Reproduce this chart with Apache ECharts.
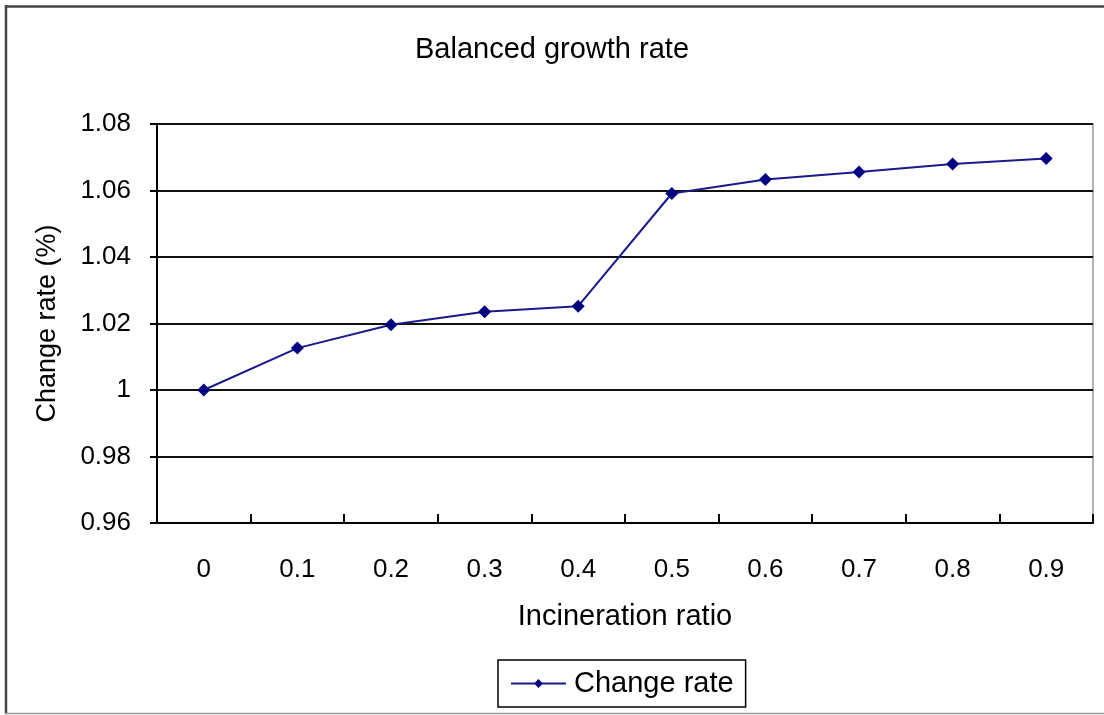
<!DOCTYPE html>
<html>
<head>
<meta charset="utf-8">
<script src="https://cdn.jsdelivr.net/npm/echarts@6/dist/echarts.min.js"></script>
<style>
  html, body { margin: 0; padding: 0; background: #fff; }
  #chart { width: 1104px; height: 715px; }
</style>
</head>
<body>
<div id="chart"></div>
<script>
// Incineration ratio categories
const ratios = ['0', '0.1', '0.2', '0.3', '0.4', '0.5', '0.6', '0.7', '0.8', '0.9'];
// Balanced growth change rate for each ratio
const changeRate = [1.000, 1.0126, 1.0196, 1.0235, 1.0252, 1.0591, 1.0633, 1.0656, 1.0680, 1.0696];
// Value axis range
const yMin = 0.96, yMax = 1.08, yStep = 0.02;

const FONT = '"Liberation Sans", Arial, sans-serif';
const chart = echarts.init(document.getElementById('chart'), null, { renderer: 'canvas' });

chart.setOption({
  backgroundColor: '#fff',
  animation: false,
  textStyle: { fontFamily: FONT, color: '#000' },
  title: {
    text: 'Balanced growth rate',
    left: 'center',
    top: 30,
    textStyle: { fontFamily: FONT, fontSize: 29, fontWeight: 'normal', color: '#000' }
  },
  // outer frame of the chart area (top, left dark; bottom light)
  graphic: [
    { type: 'line', shape: { x1: 5, y1: 6.5, x2: 1104, y2: 6.5 },
      style: { stroke: '#444', lineWidth: 2.5 }, silent: true },
    { type: 'line', shape: { x1: 6, y1: 5, x2: 6, y2: 714 },
      style: { stroke: '#444', lineWidth: 2.5 }, silent: true },
    { type: 'line', shape: { x1: 5, y1: 713.5, x2: 1104, y2: 713.5 },
      style: { stroke: '#999', lineWidth: 1.5 }, silent: true }
  ],
  legend: {
    data: ['Change rate'],
    left: 498,
    top: 660,
    padding: [9, 12, 9, 12],
    borderColor: '#000',
    borderWidth: 1.5,
    itemWidth: 55,
    itemHeight: 11,
    itemGap: 0,
    textStyle: { fontFamily: FONT, fontSize: 29, color: '#000', padding: [0, 0, 0, 3] }
  },
  grid: {
    left: 157,
    top: 124,
    right: 11,
    bottom: 192,
    show: true,
    borderColor: '#999',
    borderWidth: 1.5,
    containLabel: false
  },
  xAxis: {
    type: 'category',
    data: ratios,
    boundaryGap: true,
    name: 'Incineration ratio',
    nameLocation: 'middle',
    nameGap: 79,
    nameTextStyle: { fontFamily: FONT, fontSize: 29, color: '#000' },
    axisLine: { lineStyle: { color: '#000', width: 2 } },
    axisTick: { show: true, inside: true, length: 9, lineStyle: { color: '#000', width: 2 } },
    axisLabel: { margin: 34, fontFamily: FONT, fontSize: 26, color: '#000' },
    splitLine: { show: false }
  },
  yAxis: {
    type: 'value',
    min: yMin,
    max: yMax,
    interval: yStep,
    name: 'Change rate (%)',
    nameLocation: 'middle',
    nameGap: 96,
    nameTextStyle: { fontFamily: FONT, fontSize: 27, color: '#000' },
    axisLine: { show: true, lineStyle: { color: '#000', width: 2 } },
    axisTick: { show: true, inside: false, length: 7, lineStyle: { color: '#000', width: 2 } },
    axisLabel: {
      margin: 26,
      fontFamily: FONT,
      fontSize: 26,
      color: '#000',
      formatter: v => String(parseFloat(v.toFixed(2)))
    },
    splitLine: { show: true, lineStyle: { color: '#111', width: 2 } }
  },
  series: [{
    name: 'Change rate',
    type: 'line',
    data: changeRate,
    symbol: 'diamond',
    symbolSize: 13,
    lineStyle: { color: '#1a1a8c', width: 2 },
    itemStyle: { color: '#000080' },
    z: 5
  }]
});
</script>
</body>
</html>
